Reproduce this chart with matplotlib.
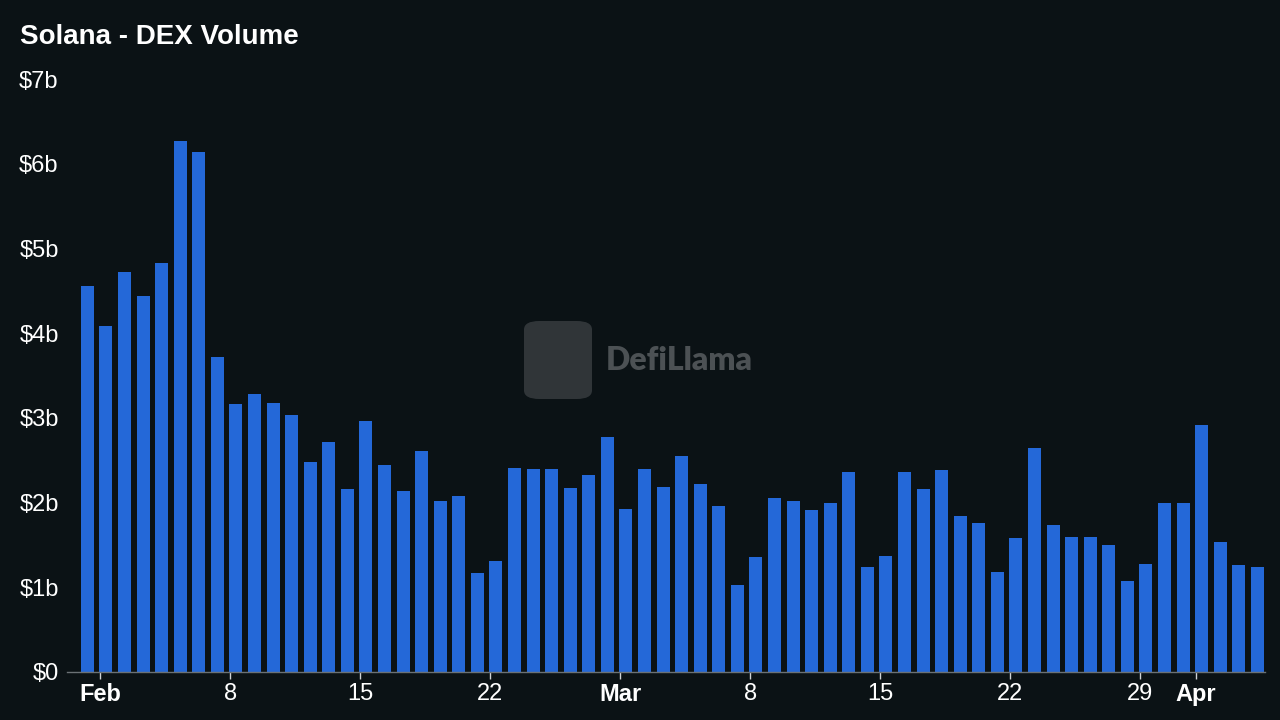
# Solana DEX volume, daily bars (DefiLlama style dark chart)

import pandas as pd
import matplotlib.pyplot as plt
from matplotlib.patches import FancyBboxPatch

plt.rcParams['font.family'] = ['Liberation Sans', 'DejaVu Sans']

# Daily volume in billions USD, Jan 31 .. Apr 4
dates = pd.date_range("2025-01-31", "2025-04-04", freq="D")
volume = [
    4.56,
    4.09, 4.72, 4.44, 4.83, 6.27, 6.14, 3.72, 3.16, 3.28, 3.18, 3.04, 2.48, 2.72, 2.16,
    2.96, 2.44, 2.14, 2.61, 2.02, 2.08, 1.17, 1.31, 2.41, 2.40, 2.40, 2.17, 2.33, 2.77,
    1.93, 2.40, 2.18, 2.55, 2.22, 1.96, 1.03, 1.36, 2.06, 2.02, 1.91, 2.00, 2.36, 1.24,
    1.37, 2.36, 2.16, 2.38, 1.84, 1.76, 1.18, 1.58, 2.65, 1.74, 1.59, 1.59, 1.50, 1.07,
    1.28, 2.00, 2.00,
    2.92, 1.54, 1.26, 1.24,
]
y_ticks = [0, 1, 2, 3, 4, 5, 6, 7]
y_labels = ["$0", "$1b", "$2b", "$3b", "$4b", "$5b", "$6b", "$7b"]
x_tick_dates = ["2025-02-01", "2025-02-08", "2025-02-15", "2025-02-22", "2025-03-01",
                "2025-03-08", "2025-03-15", "2025-03-22", "2025-03-29", "2025-04-01"]

bg = '#0b1215'
bar_color = '#2468d8'

fig = plt.figure(figsize=(12.8, 7.2), dpi=100, facecolor=bg)
ax = fig.add_axes([0.0523, 0.0667, 0.9359, 0.8233], facecolor=bg)

pos = list(range(len(dates)))
ax.bar(pos, volume, width=0.7, align='edge', color=bar_color, zorder=2)

ax.set_xlim(-0.75, 63.76)
ax.set_ylim(0, 7)

# x ticks: month names bold, other days plain
tick_pos = [list(dates).index(pd.Timestamp(d)) + 0.05 for d in x_tick_dates]
tick_lab = []
for d in x_tick_dates:
    t = pd.Timestamp(d)
    tick_lab.append(t.strftime('%b') if t.day == 1 else str(t.day))
ax.set_xticks(tick_pos)
ax.set_xticklabels(tick_lab, fontsize=17, color='white')
for lab, d in zip(ax.get_xticklabels(), x_tick_dates):
    if pd.Timestamp(d).day == 1:
        lab.set_fontweight('bold')
ax.tick_params(axis='x', length=5, width=1, color='#cfd3d6', pad=3)

ax.set_yticks(y_ticks)
ax.set_yticklabels(y_labels, fontsize=17, color='white')
ax.tick_params(axis='y', length=0, pad=6)

for s in ['top', 'right', 'left']:
    ax.spines[s].set_visible(False)
ax.spines['bottom'].set_color('#6b7175')
ax.spines['bottom'].set_linewidth(1)

fig.text(20 / 1280, 1 - 37 / 720, "Solana - DEX Volume", fontsize=20, fontweight='bold',
         color='white', ha='left', va='center')

# watermark
logo = FancyBboxPatch((524 / 1280, 1 - 399 / 720), 68 / 1280, 78 / 720,
                      boxstyle="round,pad=0,rounding_size=0.012",
                      transform=fig.transFigure, facecolor='#3a3f42', edgecolor='none',
                      alpha=0.8, zorder=5)
fig.patches.append(logo)
fig.text(606 / 1280, 1 - 361 / 720, "DefiLlama", fontsize=23, fontweight='heavy',
         color='#4c5154', ha='left', va='center', family=['Lato', 'DejaVu Sans'])

fig.savefig("out.png", dpi=100, facecolor=bg)
